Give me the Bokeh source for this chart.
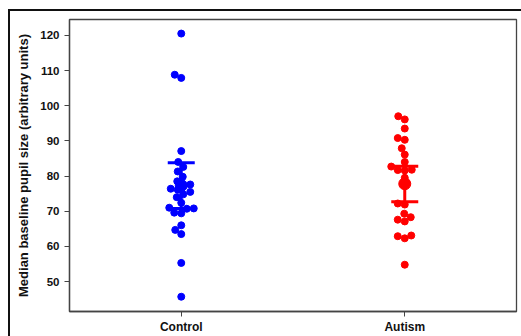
import numpy as np
from bokeh.plotting import figure
from bokeh.models import Range1d, FixedTicker, InlineStyleSheet
from bokeh.embed import file_html
from bokeh.resources import INLINE

groups = ["Control", "Autism"]
colors = ["#0000ff", "#ff0000"]
control = [120.5, 108.8, 107.9, 87.1, 84.0, 82.6, 81.3, 79.8, 78.5, 77.6, 77.4, 76.4,
           76.1, 75.5, 74.8, 74.0, 72.4, 71.0, 70.8, 70.7, 69.6, 69.4, 66.0, 64.7,
           63.5, 55.3, 45.7]
autism = [97.0, 96.1, 93.5, 90.8, 90.3, 87.9, 86.1, 84.0, 82.7, 81.8, 81.6, 81.7,
          79.5, 72.2, 71.9, 69.3, 68.3, 67.6, 67.1, 62.9, 62.3, 63.1, 54.8]
means = [77.3, 77.8]
ci_low = [70.8, 72.7]
ci_high = [83.8, 82.8]
y_ticks = [50, 60, 70, 80, 90, 100, 110, 120]

W, H = 521, 336
ML, MR, MT, MB = 69, 5, 19, 25
x0, x1 = -0.5, 1.5
y0, y1 = 41.5, 124.5
px_x = (W - ML - MR) / (x1 - x0)
px_y = (H - MT - MB) / (y1 - y0)
DOT = 7.0


def swarm(vals, center):
    placed = []
    xs = {}
    order = sorted(range(len(vals)), key=lambda i: vals[i])
    for i in order:
        vy = vals[i] * px_y
        best = None
        for k in range(0, 200):
            for s in ([0] if k == 0 else [-1, 1]):
                off = s * k * 0.5
                ok = all((off - ox) ** 2 + (vy - oy) ** 2 >= DOT ** 2 for ox, oy in placed)
                if ok:
                    best = off
                    break
            if best is not None:
                break
        placed.append((best, vy))
        xs[i] = center + best / px_x
    return [xs[i] for i in range(len(vals))]


p = figure(width=W, height=H, x_range=Range1d(x0, x1), y_range=Range1d(y0, y1),
           output_backend="svg", toolbar_location=None,
           min_border_left=ML, min_border_right=MR, min_border_top=MT, min_border_bottom=MB)
p.border_fill_color = None
p.background_fill_color = "white"
p.stylesheets = [InlineStyleSheet(css=(
    ":host { background:"
    " linear-gradient(#111,#111) 8px 9px / 2px 330px no-repeat,"
    " linear-gradient(#111,#111) 8px 9px / 520px 2px no-repeat,"
    " white; }"))]

for gi, (vals, col) in enumerate(zip([control, autism], colors)):
    xs = swarm(vals, gi)
    p.scatter(xs, vals, size=DOT, color=col, line_color=col)
    cap = 13.5 / px_x
    p.segment([gi], [ci_low[gi]], [gi], [ci_high[gi]], line_color=col, line_width=3)
    p.segment([gi - cap, gi - cap], [ci_low[gi], ci_high[gi]],
              [gi + cap, gi + cap], [ci_low[gi], ci_high[gi]], line_color=col, line_width=3)
    p.scatter([gi], [means[gi]], size=12, color=col)

p.xgrid.visible = False
p.ygrid.visible = False
p.outline_line_color = "#444444"
p.outline_line_width = 1.3

p.xaxis.ticker = FixedTicker(ticks=[0, 1])
p.xaxis.major_label_overrides = {0: "Control", 1: "Autism"}
p.yaxis.ticker = FixedTicker(ticks=y_ticks)
for ax in (p.xaxis[0], p.yaxis[0]):
    ax.axis_line_color = "#444444"
    ax.axis_line_width = 1.3
    ax.major_tick_line_color = "#444444"
    ax.major_tick_in = 0
    ax.major_tick_out = 5
    ax.minor_tick_line_color = None
    ax.major_label_text_font = "Liberation Sans"
    ax.major_label_text_font_style = "bold"
    ax.major_label_text_color = "#111111"
p.xaxis.major_label_text_font_size = "12px"
p.xaxis.major_label_standoff = 3
p.yaxis.major_label_text_font_size = "11.5px"
p.yaxis.major_label_standoff = 5

p.yaxis.axis_label = "Median baseline pupil size (arbitrary units)"
p.yaxis.axis_label_text_font = "Liberation Sans"
p.yaxis.axis_label_text_font_style = "bold"
p.yaxis.axis_label_text_font_size = "13px"
p.yaxis.axis_label_text_color = "#111111"
p.yaxis.axis_label_standoff = 6

open("out.html", "w").write(file_html(p, INLINE))
